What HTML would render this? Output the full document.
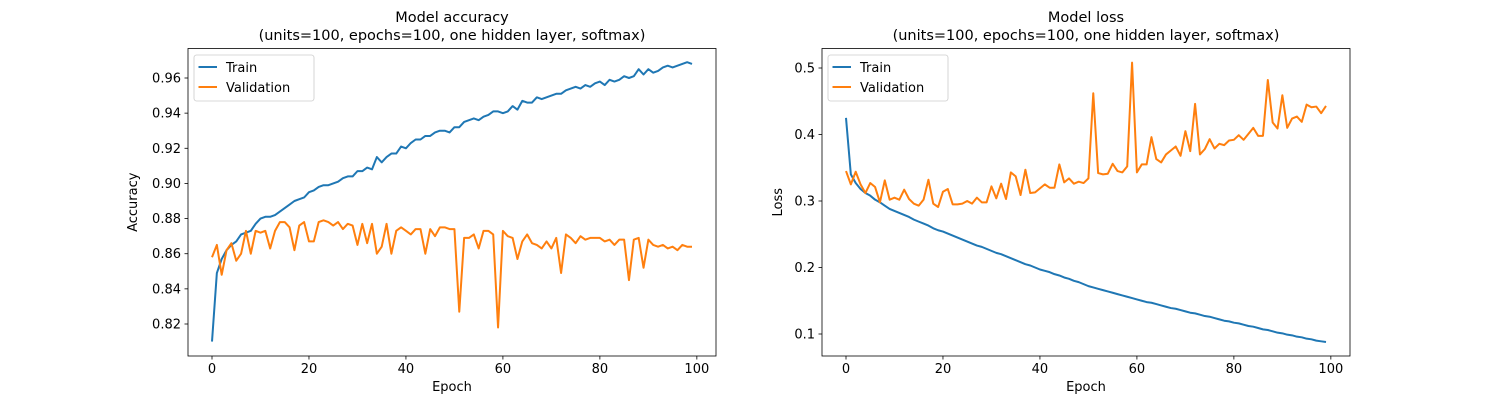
<!DOCTYPE html>
<html><head><meta charset="utf-8"><style>
body{margin:0;background:#fff}
svg{display:block;font-family:"DejaVu Sans","Liberation Sans",sans-serif}
</style></head><body>
<svg id="fig" width="1500" height="400" viewBox="0 0 1500 400"></svg>
<script>
const epochs = Array.from({length:100},(_,i)=>i);
const accTrain = [.810,.849,.857,.862,.865,.867,.871,.872,.873,.877,
.880,.881,.881,.882,.884,.886,.888,.890,.891,.892,
.895,.896,.898,.899,.899,.900,.901,.903,.904,.904,
.907,.907,.909,.908,.915,.912,.915,.917,.917,.921,
.920,.923,.925,.925,.927,.927,.929,.930,.930,.929,
.932,.932,.935,.936,.937,.936,.938,.939,.941,.941,
.940,.941,.944,.942,.947,.946,.946,.949,.948,.949,
.950,.951,.951,.953,.954,.955,.954,.956,.955,.957,
.958,.956,.959,.958,.959,.961,.960,.961,.965,.962,
.965,.963,.964,.966,.967,.966,.967,.968,.969,.968];
const accVal = [.858,.865,.848,.862,.866,.856,.860,.873,.860,.873,
.872,.873,.863,.873,.878,.878,.875,.862,.876,.878,
.867,.867,.878,.879,.878,.876,.878,.874,.877,.876,
.865,.877,.866,.877,.860,.864,.877,.860,.873,.875,
.873,.871,.874,.874,.860,.874,.870,.875,.875,.874,
.874,.827,.869,.869,.871,.863,.873,.873,.871,.818,
.873,.870,.869,.857,.867,.871,.866,.865,.863,.867,
.863,.869,.849,.871,.869,.866,.870,.868,.869,.869,
.869,.867,.868,.865,.868,.868,.845,.868,.869,.852,
.868,.865,.864,.865,.863,.864,.862,.865,.864,.864];
const lossTrain = [.425,.340,.327,.318,.312,.308,.302,.298,.293,.288,
.285,.282,.279,.276,.272,.269,.266,.263,.259,.256,
.254,.251,.248,.245,.242,.239,.236,.233,.231,.228,
.225,.222,.220,.217,.214,.211,.208,.205,.203,.200,
.197,.195,.193,.190,.188,.185,.183,.180,.178,.175,
.172,.170,.168,.166,.164,.162,.160,.158,.156,.154,
.152,.150,.148,.147,.145,.143,.141,.139,.138,.136,
.134,.132,.131,.129,.127,.126,.124,.122,.120,.119,
.117,.116,.114,.112,.111,.109,.107,.106,.104,.102,
.101,.099,.098,.096,.095,.093,.092,.090,.089,.088];
const lossVal = [.345,.325,.344,.325,.312,.327,.321,.298,.331,.302,
.305,.302,.317,.303,.296,.293,.302,.332,.296,.291,
.314,.318,.295,.295,.296,.300,.296,.305,.298,.298,
.322,.304,.326,.303,.343,.337,.309,.347,.312,.313,
.319,.325,.320,.320,.355,.328,.334,.326,.329,.327,
.334,.462,.342,.340,.341,.356,.345,.343,.352,.508,
.343,.355,.355,.396,.363,.358,.370,.376,.382,.368,
.405,.375,.446,.370,.378,.393,.379,.386,.384,.391,
.392,.399,.392,.401,.410,.398,.398,.482,.418,.409,
.459,.410,.424,.427,.419,.445,.441,.442,.432,.443];
const xTicks = [0,20,40,60,80,100];
const accTicks = [0.82,0.84,0.86,0.88,0.90,0.92,0.94,0.96];
const lossTicks = [0.1,0.2,0.3,0.4,0.5];

const NS="http://www.w3.org/2000/svg";
const svg=document.getElementById('fig');
function mk(tag,attrs,parent){const e=document.createElementNS(NS,tag);for(const k in attrs)e.setAttribute(k,attrs[k]);(parent||svg).appendChild(e);return e;}

function panel(p){
  const g=mk('g',{});
  
  
  const L=p.left,R=p.right,T=48.5,B=356;
  const xs=v=>L+(v+4.95)/108.9*(R-L);
  const ys=v=>p.y0px+(v-p.y0)/(p.y1-p.y0)*(p.y1px-p.y0px);
  xTicks.forEach(t=>{
    const x=xs(t);
    const tk=mk('line',{x1:x,x2:x,y1:B,y2:B+3.5,stroke:'#000','stroke-width':0.8},g);
    
    
    const tl=mk('text',{x:x,y:B+17,'font-size':13,'text-anchor':'middle',fill:'#000'},g);
    tl.textContent=t;
    
    
  });
  p.ticks.forEach(t=>{
    const y=ys(t);
    const tk=mk('line',{x1:L-3.5,x2:L,y1:y,y2:y,stroke:'#000','stroke-width':0.8},g);
    
    
    const tl=mk('text',{x:L-7,y:y+4.5,'font-size':13,'text-anchor':'end',fill:'#000'},g);
    tl.textContent=t.toFixed(p.dec);
    
    
  });
  const series=[[p.a,'#1f77b4','train-line'],[p.b,'#ff7f0e','validation-line']];
  series.forEach(([arr,c,n])=>{
    const pl=mk('polyline',{points:arr.map((v,i)=>xs(epochs[i]).toFixed(2)+','+ys(v).toFixed(2)).join(' '),fill:'none',stroke:c,'stroke-width':2,'stroke-linejoin':'round'},g);
    
    
  });
  const frame=mk('rect',{x:L,y:T,width:R-L,height:B-T,fill:'none',stroke:'#000','stroke-width':0.8},g);
  
  
  const cx=(L+R)/2;
  const t1=mk('text',{x:cx,y:22,'font-size':14.5,'text-anchor':'middle'},g);
  t1.textContent=p.title;
  
  
  const t2=mk('text',{x:cx,y:40,'font-size':14.5,'text-anchor':'middle'},g);
  t2.textContent='(units=100, epochs=100, one hidden layer, softmax)';
  
  
  const xl=mk('text',{x:cx,y:B+35,'font-size':13,'text-anchor':'middle'},g);
  xl.textContent='Epoch';
  
  
  const yl=mk('text',{x:0,y:0,'font-size':13,'text-anchor':'middle',transform:`translate(${p.ylx},${(T+B)/2}) rotate(-90)`},g);
  yl.textContent=p.ylabel;
  
  
  const lg=mk('g',{},g);
  
  
  mk('rect',{x:L+6,y:T+6.5,width:p.legW,height:46,rx:2.5,fill:'#fff','fill-opacity':0.8,stroke:'#ccc','stroke-width':0.8},lg);
  [['Train','#1f77b4',T+19.5],['Validation','#ff7f0e',T+39.5]].forEach(([lab,c,y])=>{
    const e=mk('g',{},lg);
    
    
    mk('line',{x1:L+10.5,x2:L+29,y1:y-1,y2:y-1,stroke:c,'stroke-width':2},e);
    const tx=mk('text',{x:L+38,y:y+4,'font-size':13},e);
    tx.textContent=lab;
  });
}
panel({name:'accuracy-chart',left:188,right:716,a:accTrain,b:accVal,ticks:accTicks,dec:2,y0:0.82,y1:0.96,y0px:324,y1px:78,title:'Model accuracy',ylabel:'Accuracy',ylx:137,legW:120});
panel({name:'loss-chart',left:822,right:1350,a:lossTrain,b:lossVal,ticks:lossTicks,dec:1,y0:0.1,y1:0.5,y0px:334,y1px:68,title:'Model loss',ylabel:'Loss',ylx:782,legW:120});
</script>
</body></html>
